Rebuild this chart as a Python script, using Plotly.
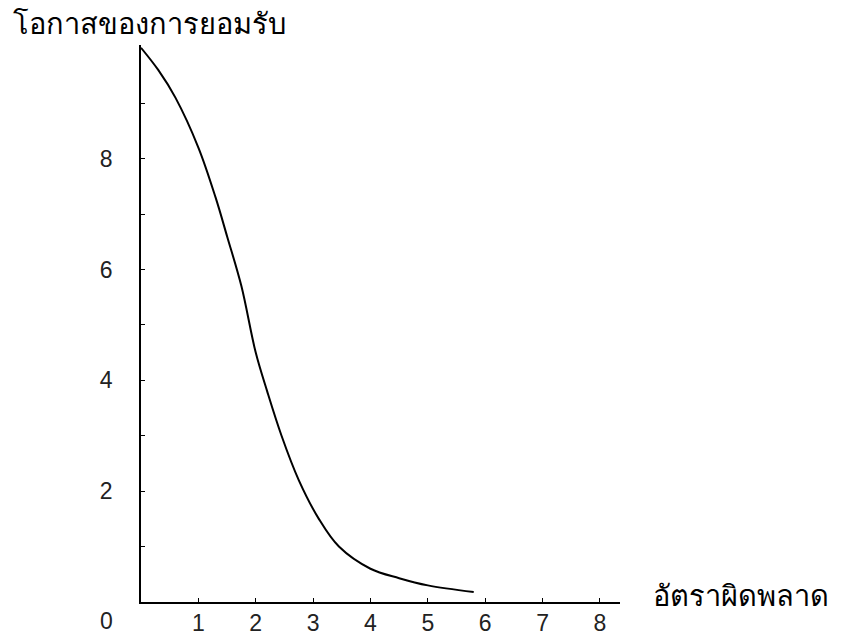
import plotly.graph_objects as go

# Data
error_rate = [0.0, 0.3, 0.6, 1.0, 1.3, 1.5, 1.75, 2.0, 2.2, 2.45, 2.75, 3.1, 3.45, 4.0, 4.5, 5.0, 5.8]
acceptance = [10.0, 9.6, 9.1, 8.2, 7.3, 6.6, 5.7, 4.5, 3.8, 3.0, 2.2, 1.5, 1.0, 0.6, 0.43, 0.3, 0.18]

x_ticks = [1, 2, 3, 4, 5, 6, 7, 8]
y_ticks = [2, 4, 6, 8]

y_title = "โอกาสของการยอมรับ"
x_title = "อัตราผิดพลาด"

font_family = "Liberation Sans, DejaVu Sans, Noto Sans, sans-serif"

# page body has an 8px margin; figure sized to fit the 859x636 window
W, H = 851, 628

fig = go.Figure()
fig.add_trace(go.Scatter(
    x=error_rate, y=acceptance, mode="lines",
    line=dict(color="black", width=2, shape="spline", smoothing=1.0),
    hoverinfo="skip", showlegend=False,
))

fig.update_layout(
    width=W, height=H,
    margin=dict(l=133, r=239, t=37, b=34, autoexpand=False),
    paper_bgcolor="white", plot_bgcolor="white",
    font=dict(family=font_family, size=23, color="#222"),
    title=dict(text=y_title, x=0.006, xanchor="left", y=0.974, yanchor="middle",
               font=dict(size=29, color="black", family=font_family)),
    xaxis=dict(
        range=[0, 8.35], showgrid=False, zeroline=False, automargin=False,
        showline=True, linecolor="black", linewidth=1.5,
        tickmode="array", tickvals=x_ticks, ticktext=[str(v) for v in x_ticks],
        ticks="inside", ticklen=4, tickcolor="black", tickwidth=1,
        ticklabelstandoff=0,
        tickfont=dict(size=23, color="#222"),
    ),
    yaxis=dict(
        range=[0, 10.05], showgrid=False, zeroline=False, automargin=False,
        showline=True, linecolor="black", linewidth=1.5,
        tickmode="array", tickvals=y_ticks, ticktext=[str(v) for v in y_ticks],
        ticks="inside", ticklen=4, tickcolor="black", tickwidth=1,
        ticklabelstandoff=22,
        tickfont=dict(size=23, color="#222"),
        minor=dict(tickmode="array", tickvals=[1, 3, 5, 7, 9], ticks="inside", ticklen=4, tickcolor="black"),
    ),
)

# origin label
fig.add_annotation(x=0, y=0, xref="paper", yref="paper", text="0", showarrow=False,
                   xanchor="center", yanchor="top", xshift=-35, yshift=-4,
                   font=dict(size=23, color="#222", family=font_family))

# x-axis title to the right of the axis
fig.add_annotation(x=1.065, y=0, xref="paper", yref="paper", text=x_title, showarrow=False,
                   xanchor="left", yanchor="middle", yshift=6,
                   font=dict(size=29, color="black", family=font_family))

fig.write_html("out.html")
